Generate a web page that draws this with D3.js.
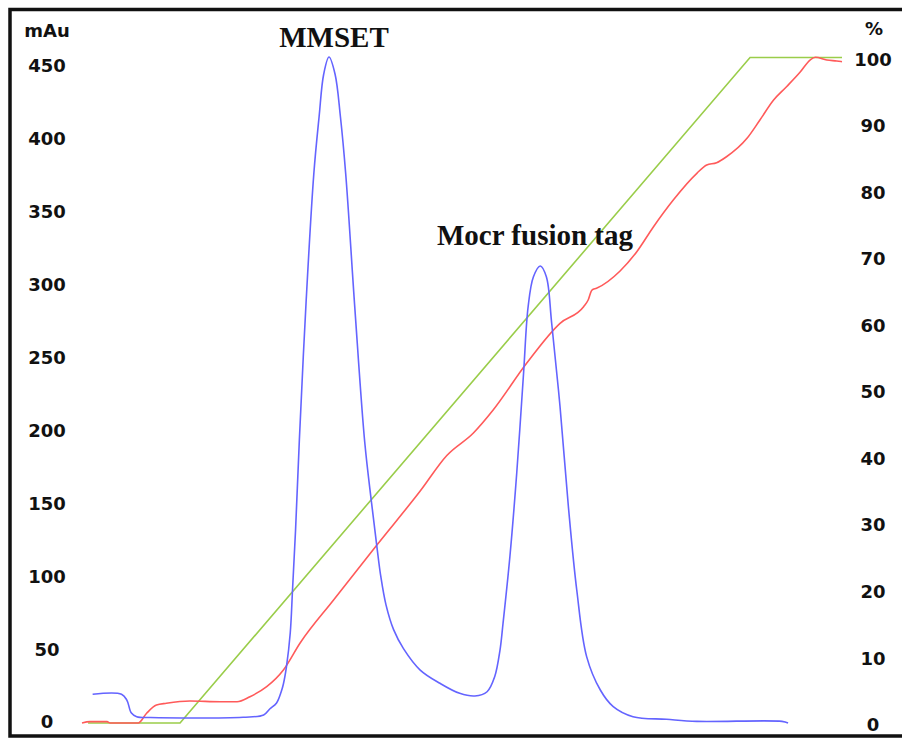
<!DOCTYPE html>
<html>
<head>
<meta charset="utf-8">
<script src="https://cdn.jsdelivr.net/npm/d3@7"></script>
<style>
  body { margin: 0; background: #fff; }
  .tick text { font-family: "DejaVu Sans", sans-serif; font-weight: bold; font-size: 18px; fill: #111; }
</style>
</head>
<body>
<div id="chart"></div>
<script>
var width = 902
var height = 741

// elution position (0-100), UV absorbance in mAu
var uvX = [1.4, 5.2, 5.9, 6.5, 7.2, 9.0, 21.2, 23.9, 24.7, 25.6, 26.2, 26.5, 26.9, 27.4, 27.7, 28.1, 28.6, 29.5, 30.5, 31.2, 31.8, 32.5, 33.3, 34.0, 34.7, 35.9, 37.2, 38.1, 38.8, 39.3, 40.0, 41.0, 42.3, 44.5, 47.1, 49.7, 51.7, 53.3, 54.3, 55.0, 55.4, 56.3, 57.2, 58.1, 58.7, 59.4, 60.3, 61.1, 61.8, 62.9, 64.0, 65.1, 66.4, 68.2, 69.9, 72.5, 76.9, 80.9, 92.1, 92.9]
var uvY = [18.7, 18.7, 14.7, 5.8, 3.3, 2.7, 2.9, 4.5, 8.6, 12.7, 20.2, 25.7, 37.4, 60.7, 90.2, 131.4, 193.1, 289.1, 375.6, 415, 444, 455.8, 444, 415, 375.6, 283.6, 191.7, 150, 120, 100, 80, 63, 50, 35.3, 26.2, 19.3, 17.5, 20.4, 30.7, 49, 67.4, 113, 170.3, 238.9, 284.5, 305.1, 312.5, 305.1, 273.2, 215.9, 147.3, 90.2, 44.5, 21.6, 10.2, 3.3, 1.5, 0.1, 0.1, -1]

// measured conductivity / concentration, %
var condX = [0, 1.05, 3.3, 3.7, 7.4, 8.5, 9.8, 11.1, 14.2, 18.2, 20.4, 22.1, 24.3, 26.5, 28.7, 33.1, 38.8, 44.5, 48.0, 51.5, 54.1, 58.5, 62.9, 66.0, 66.6, 67.1, 67.7, 70.8, 73.0, 75.2, 77.8, 80.9, 82.2, 83.5, 84.8, 87.5, 89.2, 91.0, 92.7, 94.5, 95.8, 96.5, 98.0, 99.3, 100]
var condY = [0, 0.2, 0.2, 0, 0, 1.46, 2.7, 2.96, 3.31, 3.2, 3.2, 3.95, 5.45, 7.96, 12.02, 18.48, 26.75, 34.86, 40.2, 43.58, 47.03, 54.05, 60.06, 62.55, 63.56, 65.06, 65.32, 67.92, 70.82, 74.58, 78.59, 82.6, 83.85, 84.19, 85.09, 87.86, 90.61, 93.61, 95.61, 97.82, 99.62, 100.03, 99.62, 99.47, 99.37]

// programmed gradient, % B
var gradX = [0.8, 12.9, 87.9, 100]
var gradY = [0, 0, 100, 100]

var leftTicks = [0, 50, 100, 150, 200, 250, 300, 350, 400, 450]
var rightTicks = [0, 10, 20, 30, 40, 50, 60, 70, 80, 90, 100]

var svg = d3.select("#chart")
  .append("svg")
    .attr("width", width)
    .attr("height", height)

// frame (right side is cut off)
svg.append("path")
    .attr("d", "M" + (width + 5) + ",9.5 H10 V736 H" + (width + 5))
    .attr("fill", "none")
    .attr("stroke", "#111")
    .attr("stroke-width", 3.5)

const xScale = d3.scaleLinear().domain([0, 100]).range([82, 842])
const yLeft = d3.scaleLinear().domain([0, 450]).range([721.5, 65.5])
const yRight = d3.scaleLinear().domain([0, 100]).range([723, 57.5])

const axL = svg.append("g")
    .attr("transform", "translate(47,0)")
    .call(d3.axisLeft(yLeft).tickValues(leftTicks).tickSize(0).tickPadding(0))
axL.select(".domain").remove()
axL.selectAll("text").attr("text-anchor", "middle").attr("x", 0).attr("dy", "0.36em")

const axR = svg.append("g")
    .attr("transform", "translate(873,0)")
    .call(d3.axisRight(yRight).tickValues(rightTicks).tickSize(0).tickPadding(0))
axR.select(".domain").remove()
axR.selectAll("text").attr("text-anchor", "middle").attr("x", 0).attr("dy", "0.42em")

svg.append("text")
    .attr("x", 47).attr("y", 37)
    .attr("text-anchor", "middle")
    .style("font-family", "DejaVu Sans").style("font-weight", "bold").style("font-size", "18px")
    .attr("fill", "#111")
    .text("mAu")

svg.append("text")
    .attr("x", 874).attr("y", 35)
    .attr("text-anchor", "middle")
    .style("font-family", "DejaVu Sans").style("font-weight", "bold").style("font-size", "18px")
    .attr("fill", "#111")
    .text("%")

const series = [
  { xs: gradX, ys: gradY, y: yRight, color: "#9acd4a", curve: d3.curveLinear },
  { xs: condX, ys: condY, y: yRight, color: "#ff5a5a", curve: d3.curveMonotoneX },
  { xs: uvX, ys: uvY, y: yLeft, color: "#6464ff", curve: d3.curveCatmullRom.alpha(0.5) }
]

series.forEach(s => {
  const line = d3.line()
    .x((d, i) => xScale(s.xs[i]))
    .y(d => s.y(d))
    .curve(s.curve)
  svg.append("path")
    .datum(s.ys)
    .attr("fill", "none")
    .attr("stroke", s.color)
    .attr("stroke-width", 1.6)
    .attr("d", line)
})

svg.append("text")
    .attr("x", 334).attr("y", 47)
    .attr("text-anchor", "middle")
    .style("font-family", "Liberation Serif").style("font-weight", "bold").style("font-size", "29px")
    .attr("fill", "#111")
    .text("MMSET")

svg.append("text")
    .attr("x", 437).attr("y", 245)
    .style("font-family", "Liberation Serif").style("font-weight", "bold").style("font-size", "29px")
    .attr("fill", "#111")
    .text("Mocr fusion tag")
</script>
</body>
</html>
